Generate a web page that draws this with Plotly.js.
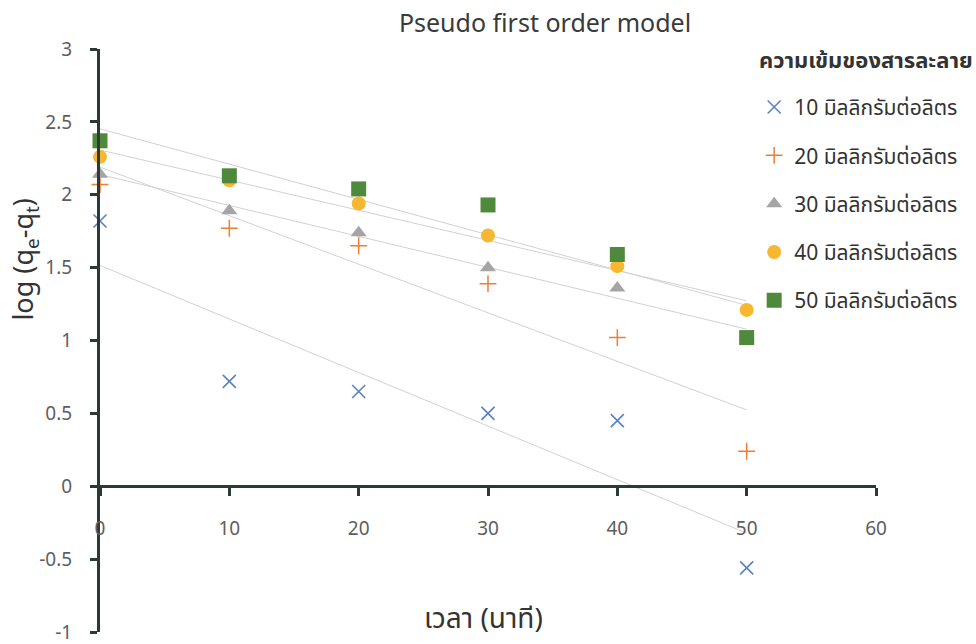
<!DOCTYPE html>
<html>
<head>
<meta charset="utf-8">
<script src="https://cdn.plot.ly/plotly-3.0.1.min.js"></script>
<style>html,body{margin:0;padding:0;background:#fff;}#chart{width:976px;height:644px;}</style>
</head>
<body>
<div id="chart"></div>
<script>
const times = [0, 10, 20, 30, 40, 50];
const legendTitle = 'ความเข้มของสารละลาย';
const seriesNames = ['10 มิลลิกรัมต่อลิตร', '20 มิลลิกรัมต่อลิตร', '30 มิลลิกรัมต่อลิตร', '40 มิลลิกรัมต่อลิตร', '50 มิลลิกรัมต่อลิตร'];
const conc10 = [1.82, 0.72, 0.65, 0.50, 0.45, -0.56];
const conc20 = [2.07, 1.77, 1.65, 1.39, 1.02, 0.24];
const conc30 = [2.14, 1.89, 1.74, 1.50, 1.36, 1.02];
const conc40 = [2.26, 2.10, 1.94, 1.72, 1.51, 1.21];
const conc50 = [2.37, 2.13, 2.04, 1.93, 1.59, 1.02];
const xTicks = [0, 10, 20, 30, 40, 50, 60];
const yTicks = [-1, -0.5, 0, 0.5, 1, 1.5, 2, 2.5, 3];

const allSeries = [conc10, conc20, conc30, conc40, conc50];
const styles = [
  {symbol: 'x-thin-open', color: '#5a80c6', size: 13, lw: 1.6},
  {symbol: 'cross-thin-open', color: '#ee7d35', size: 12, lw: 1.5},
  {symbol: 'triangle-up', color: '#a5a5a5', size: 14, lw: 0},
  {symbol: 'circle', color: '#f7b731', size: 14, lw: 0},
  {symbol: 'square', color: '#4f8a3c', size: 15, lw: 0}
];

function linfit(x, y) {
  const n = x.length;
  const mx = x.reduce((a, b) => a + b, 0) / n;
  const my = y.reduce((a, b) => a + b, 0) / n;
  let sxy = 0, sxx = 0;
  for (let i = 0; i < n; i++) { sxy += (x[i] - mx) * (y[i] - my); sxx += (x[i] - mx) ** 2; }
  const m = sxy / sxx;
  return {m: m, b: my - m * mx};
}

const traces = [];
allSeries.forEach((ys, i) => {
  const f = linfit(times, ys);
  const x0 = times[0], x1 = times[times.length - 1];
  traces.push({
    x: [x0, x1], y: [f.b + f.m * x0, f.b + f.m * x1],
    mode: 'lines', line: {color: '#d2d2d2', width: 1},
    showlegend: false, hoverinfo: 'skip', cliponaxis: false
  });
});
allSeries.forEach((ys, i) => {
  const s = styles[i];
  traces.push({
    x: times, y: ys, name: seriesNames[i], mode: 'markers',
    legendgroup: 'g' + i,
    marker: {symbol: s.symbol, color: s.color, size: s.size,
      line: {color: s.color, width: s.lw}},
    cliponaxis: false
  });
});

const layout = {
  width: 976, height: 644,
  margin: {l: 100, r: 100, t: 49, b: 12},
  paper_bgcolor: '#ffffff', plot_bgcolor: '#ffffff',
  font: {family: 'Noto Sans, "Noto Sans Thai", sans-serif', color: '#555555', size: 18},
  title: {text: 'Pseudo first order model', x: 0.5735, xref: 'paper', xanchor: 'center',
    y: 0.964, yanchor: 'middle', font: {size: 25, color: '#3a3a3a'}},
  xaxis: {
    range: [0, 60], tickvals: xTicks, ticktext: xTicks.map(String),
    showgrid: false, zeroline: false, showline: true, linecolor: '#2b3a36', linewidth: 3,
    ticks: 'outside', ticklen: 8, tickwidth: 3, tickcolor: '#2b3a36',
    anchor: 'free', position: 0.25, ticklabelstandoff: 16, ticklabeloverflow: 'allow',
    tickfont: {size: 19, color: '#5e5e5e'}
  },
  yaxis: {
    range: [-1, 3], tickvals: yTicks, ticktext: yTicks.map(String),
    showgrid: false, zeroline: false, showline: true, linecolor: '#2b3a36', linewidth: 3,
    ticks: 'outside', ticklen: 7, tickwidth: 3, tickcolor: '#2b3a36',
    ticklabelstandoff: 14, ticklabeloverflow: 'allow', tickfont: {size: 19, color: '#5e5e5e'}
  },
  legend: {
    x: 0.843, y: 0.935, xanchor: 'left', yanchor: 'top',
    bgcolor: 'rgba(0,0,0,0)', traceorder: 'grouped', tracegroupgap: 18,
    font: {size: 21, color: '#333333'}
  },
  annotations: [
    {text: '<b>' + legendTitle + '</b>', xref: 'paper', yref: 'paper', x: 0.8466, y: 0.983,
      showarrow: false, font: {size: 22, color: '#333333'}, xanchor: 'left', yanchor: 'middle'},
    {text: 'log (q<sub>e</sub>-q<sub>t</sub>)', xref: 'paper', yref: 'paper', x: -0.097, y: 0.64,
      textangle: -90, showarrow: false, font: {size: 27, color: '#333333'}, xanchor: 'center', yanchor: 'middle'},
    {text: 'เวลา (นาที)', xref: 'paper', yref: 'paper', x: 0.494, y: 0.026,
      showarrow: false, font: {size: 28, color: '#333333'}, xanchor: 'center', yanchor: 'middle'}
  ],
  showlegend: true
};

Plotly.newPlot('chart', traces, layout, {displayModeBar: false, staticPlot: true});
</script>
</body>
</html>
